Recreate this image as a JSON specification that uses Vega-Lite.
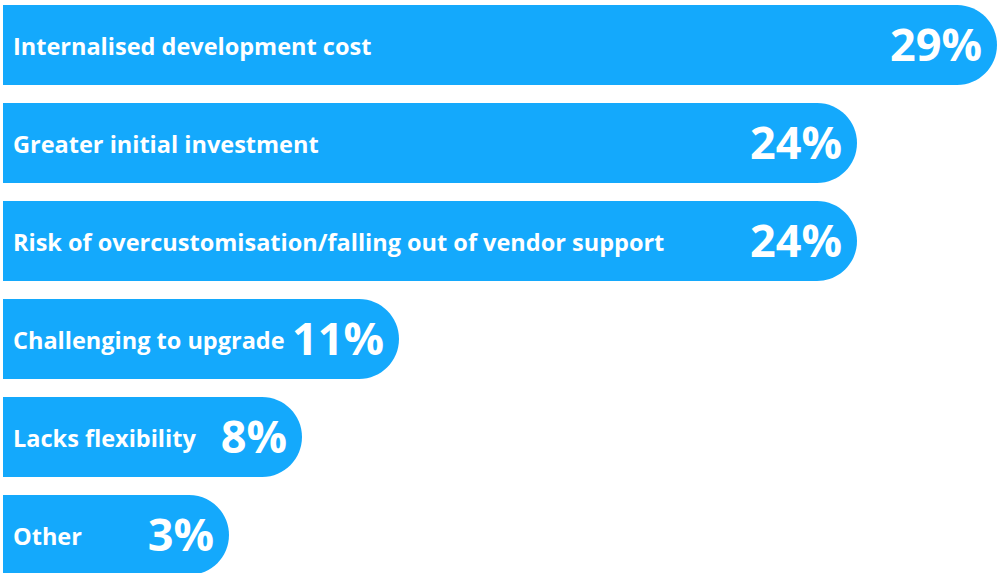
{
  "$schema": "https://vega.github.io/schema/vega-lite/v6.json",
  "autosize": "none",
  "width": 997,
  "height": 580,
  "padding": 0,
  "background": "white",
  "config": {"view": {"stroke": null}},
  "data": {
    "values": [
      {"reason": "Internalised development cost", "share": 0.29},
      {"reason": "Greater initial investment", "share": 0.24},
      {"reason": "Risk of overcustomisation/falling out of vendor support", "share": 0.24},
      {"reason": "Challenging to upgrade", "share": 0.11},
      {"reason": "Lacks flexibility", "share": 0.08},
      {"reason": "Other", "share": 0.03}
    ]
  },
  "encoding": {
    "y": {
      "field": "reason",
      "type": "nominal",
      "sort": null,
      "axis": null,
      "scale": {"paddingInner": 0.1837, "paddingOuter": 0.051}
    }
  },
  "layer": [
    {
      "mark": {"type": "bar", "color": "#14A9FC", "cornerRadiusEnd": 40},
      "encoding": {
        "x": {
          "field": "share",
          "type": "quantitative",
          "axis": null,
          "scale": {
            "domain": [0, 0.03, 0.08, 0.11, 0.24, 0.29],
            "range": [3, 229, 302, 399, 857, 997],
            "zero": false,
            "nice": false
          }
        }
      }
    },
    {
      "mark": {
        "type": "text",
        "align": "left",
        "baseline": "middle",
        "dx": 10,
        "dy": 3,
        "color": "white",
        "font": "Open Sans",
        "fontWeight": "bold",
        "fontSize": 23.5
      },
      "encoding": {
        "x": {"datum": 0, "type": "quantitative"},
        "text": {"field": "reason", "type": "nominal"}
      }
    },
    {
      "mark": {
        "type": "text",
        "align": "right",
        "baseline": "middle",
        "dx": -15,
        "dy": 2,
        "color": "white",
        "font": "Open Sans",
        "fontWeight": "bold",
        "fontSize": 45
      },
      "encoding": {
        "x": {"field": "share", "type": "quantitative"},
        "text": {"field": "share", "type": "quantitative", "format": ".0%"}
      }
    }
  ]
}
